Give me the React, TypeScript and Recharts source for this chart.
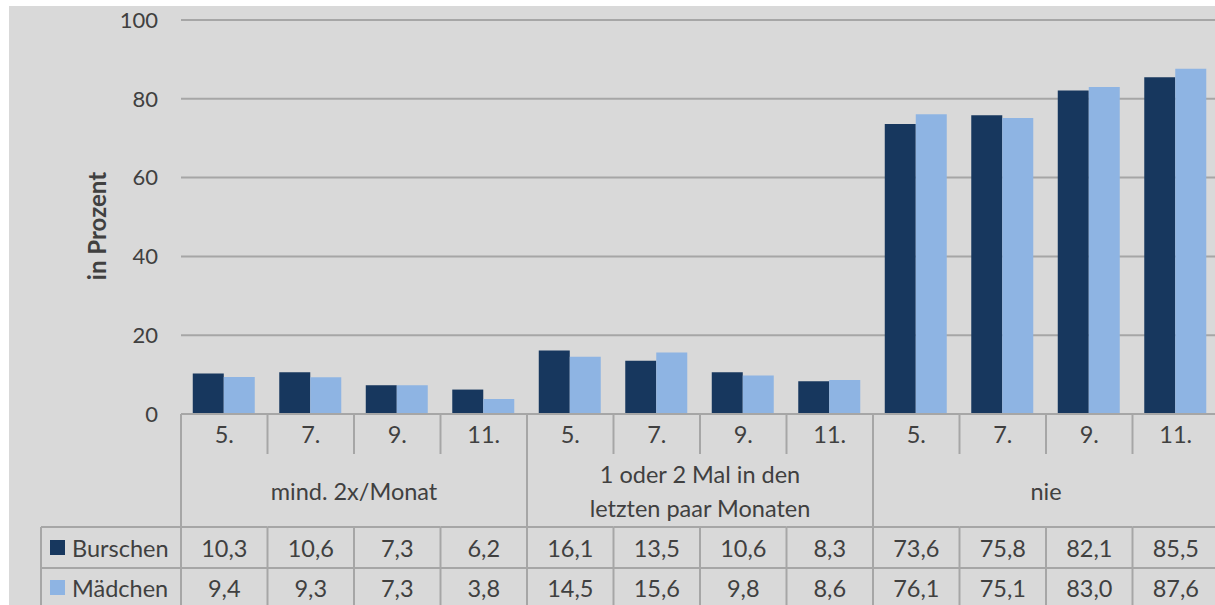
import { Bar, BarChart, CartesianGrid, XAxis, YAxis } from "recharts";

const grades = ["5.", "7.", "9.", "11.", "5.", "7.", "9.", "11.", "5.", "7.", "9.", "11."];
const groups = [["mind. 2x/Monat"], ["1 oder 2 Mal in den", "letzten paar Monaten"], ["nie"]];
const burschen = [10.3, 10.6, 7.3, 6.2, 16.1, 13.5, 10.6, 8.3, 73.6, 75.8, 82.1, 85.5];
const maedchen = [9.4, 9.3, 7.3, 3.8, 14.5, 15.6, 9.8, 8.6, 76.1, 75.1, 83.0, 87.6];
const yTicks = [0, 20, 40, 60, 80, 100];

const DARK = "#17375e";
const LIGHT = "#8eb4e3";
const GRID = "#a6a6a6";
const TEXT = "#404040";
const FONT = "Lato, 'Open Sans', sans-serif";

const W = 1219;
const H = 605;
const LEFT = 181;
const CW = (W - LEFT) / grades.length;
const TABLE_H = 191;

const chartData = grades.map((g, i) => ({
  key: `c${i}`,
  grade: g,
  burschen: burschen[i],
  maedchen: maedchen[i],
}));

const fmt = (v: number) => v.toFixed(1).replace(".", ",");

function TableCell(props: any) {
  const { x, y, index } = props;
  const x0 = x - CW / 2;
  const isGroupStart = index % 4 === 0;
  const groupLines = groups[Math.floor(index / 4)];
  const txt = { fill: TEXT, fontSize: 23.5, fontFamily: FONT, textAnchor: "middle" as const, dominantBaseline: "central" as const };
  return (
    <g>
      <text x={x} y={y + 20} {...txt}>{grades[index]}</text>
      <line x1={x0} x2={x0} y1={y} y2={isGroupStart ? y + TABLE_H : y + 40} stroke={GRID} strokeWidth={2} />
      <line x1={x0} x2={x0} y1={y + 113} y2={y + TABLE_H} stroke={GRID} strokeWidth={2} />
      <line x1={x0} x2={x0 + CW} y1={y + 113} y2={y + 113} stroke={GRID} strokeWidth={2} />
      <line x1={x0} x2={x0 + CW} y1={y + 154} y2={y + 154} stroke={GRID} strokeWidth={2} />
      <text x={x} y={y + 134} {...txt}>{fmt(burschen[index])}</text>
      <text x={x} y={y + 174} {...txt}>{fmt(maedchen[index])}</text>
      {isGroupStart &&
        groupLines.map((line, k) => (
          <text key={k} x={x0 + 2 * CW} y={y + 77 + (k - (groupLines.length - 1) / 2) * 34} {...txt}>
            {line}
          </text>
        ))}
      {index === 0 && (
        <g>
          <line x1={41} x2={x0} y1={y + 113} y2={y + 113} stroke={GRID} strokeWidth={2} />
          <line x1={41} x2={x0} y1={y + 154} y2={y + 154} stroke={GRID} strokeWidth={2} />
          <line x1={41} x2={41} y1={y + 113} y2={y + TABLE_H} stroke={GRID} strokeWidth={2} />
          <rect x={50} y={y + 126} width={15} height={15} fill={DARK} />
          <rect x={50} y={y + 166} width={15} height={15} fill={LIGHT} />
          <text x={72} y={y + 134} {...txt} textAnchor="start">Burschen</text>
          <text x={72} y={y + 174} {...txt} textAnchor="start">Mädchen</text>
        </g>
      )}
    </g>
  );
}

export default function App() {
  return (
    <div style={{ position: "fixed", left: 0, top: 0, width: 1215, height: 605, overflow: "hidden", background: "#fff" }}>
      <div style={{ position: "absolute", left: 9, top: 6, right: 0, bottom: 0, background: "#d9d9d9" }} />
      <div style={{ position: "absolute", left: 0, top: 0 }}>
        <BarChart
          width={W}
          height={H}
          data={chartData}
          margin={{ top: 20, right: 0, bottom: 0, left: 0 }}
          barCategoryGap="13.6%"
          barGap={0}
        >
          <CartesianGrid vertical={false} stroke={GRID} strokeWidth={2} />
          <YAxis
            width={LEFT}
            domain={[0, 100]}
            ticks={yTicks}
            axisLine={false}
            tickLine={false}
            tickSize={0}
            tickMargin={23}
            tick={{ fill: TEXT, fontSize: 22, fontFamily: FONT }}
            label={{
              content: ({ viewBox }: any) => {
                const cx = 96;
                const cy = viewBox.y + viewBox.height / 2 + 9;
                return (
                  <text
                    x={cx}
                    y={cy}
                    transform={`rotate(-90 ${cx} ${cy})`}
                    textAnchor="middle"
                    dominantBaseline="central"
                    fill={TEXT}
                    fontSize={24}
                    fontWeight="bold"
                    fontFamily={FONT}
                  >
                    in Prozent
                  </text>
                );
              },
            }}
          />
          <XAxis
            dataKey="key"
            height={TABLE_H}
            interval={0}
            axisLine={{ stroke: GRID, strokeWidth: 2 }}
            tickLine={false}
            tickSize={0}
            tickMargin={0}
            tick={<TableCell />}
          />
          <Bar dataKey="burschen" fill={DARK} isAnimationActive={false} />
          <Bar dataKey="maedchen" fill={LIGHT} isAnimationActive={false} />
        </BarChart>
      </div>
    </div>
  );
}
